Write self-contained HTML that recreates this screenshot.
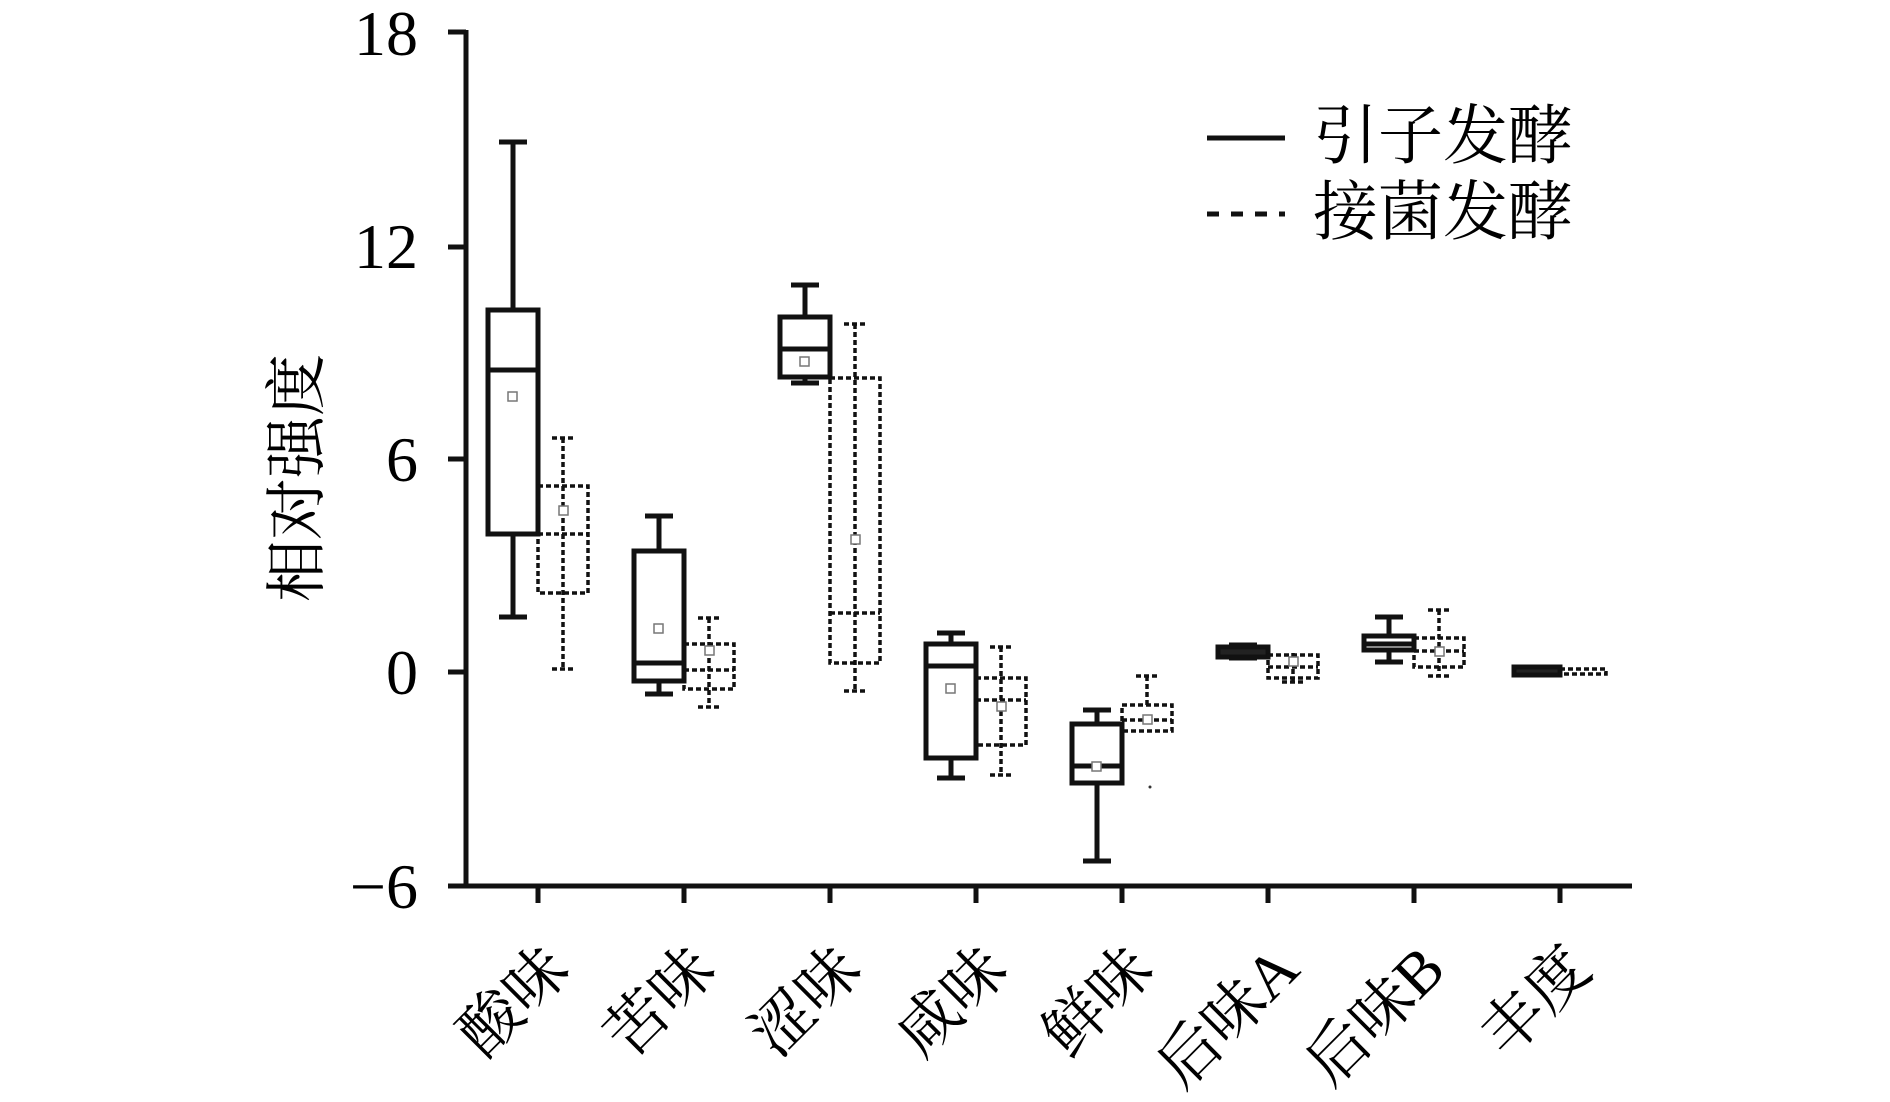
<!DOCTYPE html>
<html><head><meta charset="utf-8"><style>
html,body{margin:0;padding:0;background:#fff;}
svg{display:block;}
.n{font-family:"Liberation Serif",serif;font-size:64px;fill:#000;}
.c{font-family:"Liberation Serif","Noto Serif CJK SC",serif;font-size:62px;fill:#000;}
</style></head><body>
<svg width="1890" height="1102" viewBox="0 0 1890 1102" xmlns="http://www.w3.org/2000/svg">
<g stroke="#111" stroke-width="5" fill="none">
<line x1="466" y1="30" x2="466" y2="888"/>
<line x1="448" y1="886" x2="1632" y2="886"/>
<line x1="448" y1="32" x2="466" y2="32"/>
<line x1="448" y1="247" x2="466" y2="247"/>
<line x1="448" y1="459" x2="466" y2="459"/>
<line x1="448" y1="672" x2="466" y2="672"/>
<line x1="538" y1="886" x2="538" y2="903"/>
<line x1="684" y1="886" x2="684" y2="903"/>
<line x1="830" y1="886" x2="830" y2="903"/>
<line x1="976" y1="886" x2="976" y2="903"/>
<line x1="1122" y1="886" x2="1122" y2="903"/>
<line x1="1268" y1="886" x2="1268" y2="903"/>
<line x1="1414" y1="886" x2="1414" y2="903"/>
<line x1="1560" y1="886" x2="1560" y2="903"/>
</g>
<g class="n" text-anchor="end">
<text x="418" y="55">18</text>
<text x="418" y="268">12</text>
<text x="418" y="481">6</text>
<text x="418" y="694">0</text>
<text x="418" y="908">−6</text>
</g>
<text class="c" transform="translate(318,478) rotate(-90)" text-anchor="middle">相对强度</text>
<g class="c" text-anchor="end">
<text transform="translate(572,972) rotate(-45)">酸味</text>
<text transform="translate(718,972) rotate(-45)">苦味</text>
<text transform="translate(864,972) rotate(-45)">涩味</text>
<text transform="translate(1010,972) rotate(-45)">咸味</text>
<text transform="translate(1156,972) rotate(-45)">鲜味</text>
<text transform="translate(1302,972) rotate(-45)">后味A</text>
<text transform="translate(1448,972) rotate(-45)">后味B</text>
<text transform="translate(1594,972) rotate(-45)">丰度</text>
</g>
<line x1="1207" y1="138" x2="1285" y2="138" stroke="#111" stroke-width="5"/>
<line x1="1207" y1="214" x2="1285" y2="214" stroke="#111" stroke-width="5" stroke-dasharray="12 12"/>
<text class="c" x="1313" y="158" style="font-size:65px">引子发酵</text>
<text class="c" x="1313" y="234" style="font-size:65px">接菌发酵</text>
<g stroke="#111" stroke-width="5" fill="none">
<line x1="513" y1="142" x2="513" y2="617"/><line x1="499" y1="142" x2="527" y2="142"/><line x1="499" y1="617" x2="527" y2="617"/>
<rect x="488" y="310" width="50" height="224" fill="#fff"/><line x1="488" y1="370" x2="538" y2="370"/>
<line x1="659" y1="516" x2="659" y2="694"/><line x1="645" y1="516" x2="673" y2="516"/><line x1="645" y1="694" x2="673" y2="694"/>
<rect x="634" y="551" width="50" height="130" fill="#fff"/><line x1="634" y1="663" x2="684" y2="663"/>
<line x1="805" y1="285" x2="805" y2="383"/><line x1="791" y1="285" x2="819" y2="285"/><line x1="791" y1="383" x2="819" y2="383"/>
<rect x="780" y="317" width="50" height="60" fill="#fff"/><line x1="780" y1="349" x2="830" y2="349"/>
<line x1="951" y1="633" x2="951" y2="778"/><line x1="937" y1="633" x2="965" y2="633"/><line x1="937" y1="778" x2="965" y2="778"/>
<rect x="926" y="644" width="50" height="114" fill="#fff"/><line x1="926" y1="666" x2="976" y2="666"/>
<line x1="1097" y1="710" x2="1097" y2="861"/><line x1="1083" y1="710" x2="1111" y2="710"/><line x1="1083" y1="861" x2="1111" y2="861"/>
<rect x="1072" y="724" width="50" height="59" fill="#fff"/><line x1="1072" y1="766" x2="1122" y2="766"/>
<line x1="1243" y1="645" x2="1243" y2="658"/><line x1="1229" y1="645" x2="1257" y2="645"/><line x1="1229" y1="658" x2="1257" y2="658"/>
<rect x="1218" y="647" width="50" height="10" fill="#222"/>
<line x1="1389" y1="617" x2="1389" y2="662"/><line x1="1375" y1="617" x2="1403" y2="617"/><line x1="1375" y1="662" x2="1403" y2="662"/>
<rect x="1364" y="636" width="50" height="14" fill="#fff"/><line x1="1364" y1="644" x2="1414" y2="644"/>
<rect x="1514" y="667" width="46" height="8" fill="#222"/>
</g>
<g stroke="#111" stroke-width="3.5" fill="none" stroke-dasharray="5 3">
<line x1="563" y1="438" x2="563" y2="669"/><line x1="552" y1="438" x2="574" y2="438"/><line x1="552" y1="669" x2="574" y2="669"/>
<rect x="538" y="486" width="50" height="107"/><line x1="538" y1="534" x2="588" y2="534"/>
<line x1="709" y1="618" x2="709" y2="707"/><line x1="698" y1="618" x2="720" y2="618"/><line x1="698" y1="707" x2="720" y2="707"/>
<rect x="684" y="644" width="50" height="45"/><line x1="684" y1="670" x2="734" y2="670"/>
<line x1="855" y1="324" x2="855" y2="691"/><line x1="844" y1="324" x2="866" y2="324"/><line x1="844" y1="691" x2="866" y2="691"/>
<rect x="830" y="378" width="50" height="285"/><line x1="830" y1="613" x2="880" y2="613"/>
<line x1="1001" y1="647" x2="1001" y2="775"/><line x1="990" y1="647" x2="1012" y2="647"/><line x1="990" y1="775" x2="1012" y2="775"/>
<rect x="976" y="678" width="50" height="67"/><line x1="976" y1="700" x2="1026" y2="700"/>
<line x1="1147" y1="676" x2="1147" y2="705"/><line x1="1136" y1="676" x2="1158" y2="676"/>
<rect x="1122" y="705" width="50" height="26"/><line x1="1122" y1="720" x2="1172" y2="720"/>
<line x1="1293" y1="653" x2="1293" y2="682"/><line x1="1282" y1="682" x2="1304" y2="682"/>
<rect x="1268" y="655" width="50" height="23"/><line x1="1268" y1="667" x2="1318" y2="667"/>
<line x1="1439" y1="610" x2="1439" y2="676"/><line x1="1428" y1="610" x2="1450" y2="610"/><line x1="1428" y1="676" x2="1450" y2="676"/>
<rect x="1414" y="638" width="50" height="29"/><line x1="1414" y1="651" x2="1464" y2="651"/>
<rect x="1560" y="669" width="46" height="5"/>
</g>
<g stroke="#777" stroke-width="1.5" fill="#fff">
<rect x="508" y="392" width="9" height="9"/><rect x="559" y="506" width="9" height="9"/>
<rect x="654" y="624" width="9" height="9"/><rect x="705" y="646" width="9" height="9"/>
<rect x="800" y="357" width="9" height="9"/><rect x="851" y="535" width="9" height="9"/>
<rect x="946" y="684" width="9" height="9"/><rect x="997" y="702" width="9" height="9"/>
<rect x="1092" y="762" width="9" height="9"/><rect x="1143" y="715" width="9" height="9"/>
<rect x="1289" y="657" width="9" height="9"/><rect x="1435" y="647" width="9" height="9"/>
</g>
<circle cx="1150" cy="787" r="1.5" fill="#333"/>
</svg>
</body></html>
